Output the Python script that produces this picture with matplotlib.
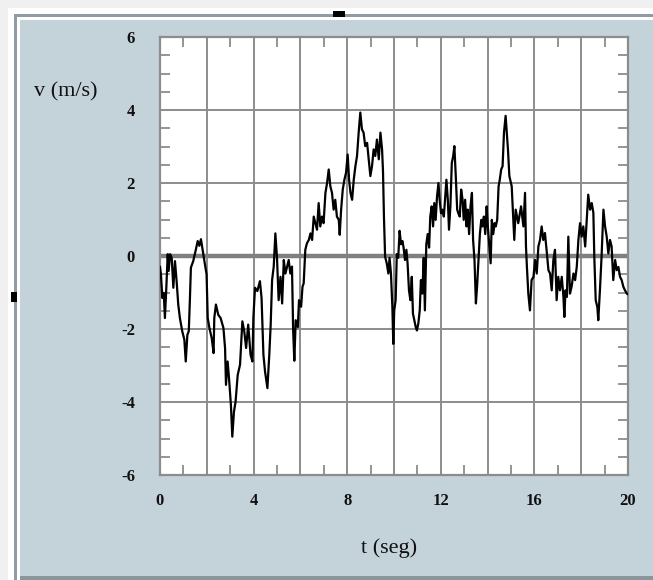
import matplotlib
matplotlib.use("Agg")
import matplotlib.pyplot as plt
from matplotlib.patches import Rectangle
from matplotlib.ticker import MultipleLocator

# ---- data ----
t_vals = [0.00, 0.04, 0.10, 0.16, 0.21, 0.27, 0.33, 0.37, 0.43, 0.50, 0.57, 0.64, 0.71, 0.78, 0.85,
          0.95, 1.04, 1.10, 1.17, 1.23, 1.28, 1.32, 1.42, 1.52, 1.61, 1.68, 1.75, 1.85, 1.92, 1.99,
          2.04, 2.11, 2.21, 2.29, 2.32, 2.39, 2.49, 2.59, 2.71, 2.78, 2.82, 2.89, 2.95, 3.03, 3.09,
          3.16, 3.23, 3.32, 3.42, 3.46, 3.52, 3.60, 3.68, 3.77, 3.87, 3.95, 3.99, 4.06, 4.16, 4.27,
          4.34, 4.42, 4.49, 4.59, 4.67, 4.73, 4.79, 4.86, 4.93, 5.00, 5.07, 5.15, 5.22, 5.29, 5.36,
          5.43, 5.50, 5.57, 5.64, 5.69, 5.74, 5.80, 5.89, 5.94, 6.03, 6.09, 6.14, 6.21, 6.28, 6.36,
          6.43, 6.50, 6.57, 6.64, 6.71, 6.78, 6.85, 6.92, 6.99, 7.07, 7.14, 7.21, 7.28, 7.35, 7.42,
          7.49, 7.56, 7.64, 7.68, 7.74, 7.81, 7.88, 7.95, 8.02, 8.08, 8.14, 8.21, 8.28, 8.35, 8.42,
          8.49, 8.56, 8.63, 8.70, 8.77, 8.85, 8.92, 8.99, 9.06, 9.13, 9.20, 9.27, 9.35, 9.42, 9.49,
          9.53, 9.57, 9.62, 9.69, 9.76, 9.81, 9.87, 9.93, 9.97, 10.01, 10.07, 10.12, 10.18, 10.24, 10.30,
          10.36, 10.41, 10.47, 10.53, 10.58, 10.64, 10.70, 10.76, 10.81, 10.87, 10.93, 10.98, 11.04, 11.10, 11.15,
          11.21, 11.27, 11.32, 11.38, 11.44, 11.50, 11.55, 11.61, 11.67, 11.72, 11.78, 11.84, 11.90, 11.95, 12.01,
          12.07, 12.13, 12.18, 12.24, 12.30, 12.35, 12.41, 12.47, 12.53, 12.58, 12.64, 12.70, 12.75, 12.81, 12.87,
          12.93, 12.98, 13.04, 13.10, 13.15, 13.21, 13.27, 13.33, 13.38, 13.44, 13.50, 13.55, 13.61, 13.67, 13.73,
          13.78, 13.84, 13.90, 13.96, 14.01, 14.07, 14.13, 14.18, 14.24, 14.30, 14.35, 14.41, 14.47, 14.52, 14.58,
          14.64, 14.70, 14.77, 14.81, 14.87, 14.93, 15.03, 15.14, 15.20, 15.31, 15.43, 15.53, 15.60, 15.64, 15.68,
          15.74, 15.81, 15.88, 15.96, 16.03, 16.10, 16.17, 16.24, 16.31, 16.38, 16.45, 16.52, 16.60, 16.67, 16.74,
          16.81, 16.88, 16.95, 17.02, 17.09, 17.17, 17.24, 17.28, 17.33, 17.39, 17.45, 17.52, 17.59, 17.67, 17.74,
          17.81, 17.88, 17.95, 18.02, 18.09, 18.17, 18.24, 18.30, 18.38, 18.45, 18.52, 18.56, 18.62, 18.69, 18.73,
          18.80, 18.87, 18.95, 19.02, 19.09, 19.16, 19.23, 19.30, 19.37, 19.45, 19.52, 19.59, 19.66, 19.73, 19.80,
          19.87, 19.95, 20.00]
v_vals = [-0.30, -0.50, -1.15, -1.01, -1.70, -0.87, 0.05, -0.41, 0.05, -0.05, -0.87, -0.14, -0.69, -1.33, -1.70,
          -2.06, -2.29, -2.89, -2.16, -2.06, -1.15, -0.32, -0.14, 0.14, 0.41, 0.28, 0.46, 0.05, -0.23, -0.50,
          -1.70, -1.97, -2.25, -2.66, -1.70, -1.33, -1.61, -1.70, -1.97, -2.52, -3.53, -2.89, -3.35, -4.08, -4.95,
          -4.27, -3.99, -3.26, -2.98, -2.52, -1.79, -2.06, -2.52, -1.88, -2.71, -2.89, -1.70, -0.87, -0.96, -0.69,
          -1.15, -2.71, -3.17, -3.62, -2.71, -1.88, -0.66, -0.29, 0.62, -0.05, -1.21, -0.57, -1.30, -0.11, -0.48,
          -0.29, -0.11, -0.48, -0.29, -2.04, -2.87, -1.76, -1.95, -1.21, -1.39, -0.84, -0.75, 0.17, 0.35, 0.44,
          0.62, 0.44, 1.08, 0.90, 0.72, 1.45, 0.81, 1.08, 0.90, 1.73, 2.00, 2.37, 1.91, 1.73, 1.27,
          1.54, 1.08, 0.99, 0.58, 1.27, 1.82, 2.09, 2.28, 2.78, 2.09, 1.73, 1.54, 2.09, 2.46, 2.74,
          3.38, 3.93, 3.47, 3.38, 3.01, 3.10, 2.65, 2.19, 2.46, 2.92, 2.74, 3.19, 2.65, 3.38, 2.92,
          2.32, 1.08, -0.02, -0.20, -0.48, -0.05, -0.48, -1.39, -2.41, -1.49, -1.21, 0.05, -0.05, 0.69, 0.32,
          0.41, 0.23, -0.11, 0.17, -0.20, -0.94, -1.21, -0.57, -1.58, -1.76, -1.95, -2.04, -1.85, -1.49, -0.66,
          -1.03, -0.05, -1.49, 0.32, 0.60, 0.23, 1.08, 1.36, 0.81, 1.45, 0.99, 1.64, 2.00, 1.54, 1.17,
          1.27, 1.08, 1.54, 2.09, 1.54, 0.72, 1.36, 2.55, 2.74, 3.01, 2.19, 1.27, 1.17, 1.08, 1.82,
          1.54, 0.99, 1.54, 0.81, 1.27, 0.60, 1.36, 1.73, 0.44, -0.11, -1.30, -0.84, -0.11, 0.60, 0.99,
          0.81, 1.08, 0.60, 1.36, 0.81, 0.32, -0.20, 0.99, 0.60, 0.90, 0.81, 0.99, 1.91, 2.09, 2.37,
          2.46, 3.38, 3.84, 3.47, 2.92, 2.19, 1.91, 0.44, 1.27, 0.90, 1.36, 0.81, 1.73, 0.26, -0.30,
          -1.03, -1.49, -0.66, -0.57, -0.11, -0.48, 0.26, 0.44, 0.81, 0.44, 0.63, 0.17, -0.39, -0.48, -0.94,
          -0.11, 0.17, -1.21, -0.57, -0.94, -0.57, -1.12, -1.67, -0.94, -1.12, 0.53, -1.03, -0.84, -0.48, -0.66,
          -0.30, 0.44, 0.90, 0.53, 0.81, 0.26, 1.00, 1.68, 1.27, 1.45, 1.18, -0.02, -1.21, -1.40, -1.76,
          -0.94, -0.02, 1.27, 0.81, 0.53, 0.07, 0.44, 0.26, -0.66, -0.11, -0.39, -0.30, -0.57, -0.66, -0.84,
          -0.94, -1.03, -1.05]
x_ticks = [0, 4, 8, 12, 16, 20]
y_ticks = [-6, -4, -2, 0, 2, 4, 6]
x_label = "t (seg)"
y_label = "v (m/s)"

W, H = 653, 580
fig = plt.figure(figsize=(W / 100, H / 100), dpi=100)
fig.patch.set_facecolor("#f0f0f0")

def px_rect(x0, y0, x1, y1, **kw):
    fig.add_artist(Rectangle((x0 / W, 1 - y1 / H), (x1 - x0) / W, (y1 - y0) / H,
                             transform=fig.transFigure, zorder=-5, **kw))

# outer frame
px_rect(8, 8, W, H, facecolor="white", edgecolor="none")
px_rect(14, 14, W, H, facecolor="#8e9ca3", edgecolor="none")
px_rect(17, 17, W, H, facecolor="white", edgecolor="none")
px_rect(20, 20, W, H - 4, facecolor="#c4d2d9", edgecolor="none")
px_rect(20, H - 4, W, H, facecolor="#8a969c", edgecolor="none")
# selection handles
px_rect(333, 11, 345, 17, facecolor="black", edgecolor="none")
px_rect(11, 292, 17, 302, facecolor="black", edgecolor="none")

ax = fig.add_axes([160 / W, 1 - 475 / H, (628 - 160) / W, (475 - 37) / H])
ax.set_zorder(5)
ax.set_facecolor("white")
ax.set_xlim(0, 20)
ax.set_ylim(-6, 6)

grid_c = "#8c8c8c"
ax.xaxis.set_major_locator(MultipleLocator(2))
ax.yaxis.set_major_locator(MultipleLocator(2))
ax.xaxis.set_minor_locator(MultipleLocator(1))
ax.yaxis.set_minor_locator(MultipleLocator(0.5))
ax.grid(True, which="major", color=grid_c, lw=1.4)
ax.set_axisbelow(True)
ax.tick_params(which="major", length=0, pad=13)
ax.tick_params(which="minor", direction="in", length=7, width=1.3, color=grid_c,
               top=True, right=True, bottom=True, left=True)
ax.tick_params(axis="y", which="major", pad=18)

ax.set_xticks([t for t in range(0, 21, 2)])
ax.set_xticklabels([str(t) if t in x_ticks else "" for t in range(0, 21, 2)])
ax.set_yticks([v for v in range(-6, 7, 2)])
ax.set_yticklabels([str(v) for v in y_ticks])
for lab in ax.get_xticklabels() + ax.get_yticklabels():
    lab.set_fontfamily("Liberation Serif")
    lab.set_fontsize(12)
    lab.set_fontweight("bold")
    lab.set_color("#111111")

for s in ax.spines.values():
    s.set_color(grid_c)
    s.set_linewidth(1.6)

ax.axhline(0, color="#808080", lw=3.2, zorder=2)
ax.plot(t_vals, v_vals, color="black", lw=1.6, zorder=3)

fig.text(66 / W, 1 - 92 / H, y_label, ha="center", va="center",
         fontfamily="Liberation Serif", fontsize=16, color="#111111")
fig.text(389 / W, 1 - 548 / H, x_label, ha="center", va="center",
         fontfamily="Liberation Serif", fontsize=16, color="#111111")

fig.savefig("out.png", dpi=100)
